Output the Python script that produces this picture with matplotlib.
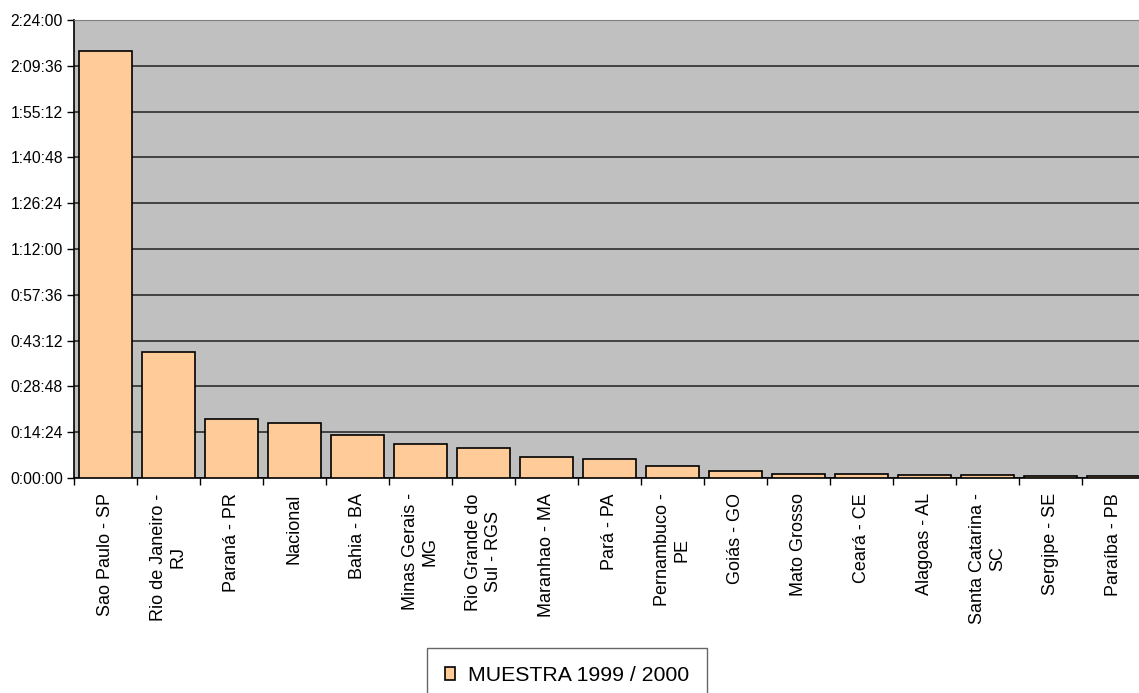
import numpy as np
import matplotlib.pyplot as plt
from matplotlib.ticker import FuncFormatter, FixedLocator

plt.rcParams['font.family'] = ['Liberation Sans', 'DejaVu Sans']

# categories and values (seconds)
estados = ['Sao Paulo - SP', 'Rio de Janeiro -\nRJ', 'Paraná - PR', 'Nacional',
           'Bahia - BA', 'Minas Gerais -\nMG', 'Rio Grande do\nSul - RGS',
           'Maranhao - MA', 'Pará - PA', 'Pernambuco -\nPE', 'Goiás - GO',
           'Mato Grosso', 'Ceará - CE', 'Alagoas - AL', 'Santa Catarina -\nSC',
           'Sergipe - SE', 'Paraíba - PB']
segundos = [8059, 2382, 1118, 1037, 805, 641, 572, 402, 358, 226, 138,
            72, 70, 62, 50, 38, 32]
serie = 'MUESTRA 1999 / 2000'


def hms(v, pos=None):
    v = int(round(v))
    return '%d:%02d:%02d' % (v // 3600, (v % 3600) // 60, v % 60)


fig = plt.figure(figsize=(11.39, 6.93), dpi=100)
ax = fig.add_axes([74 / 1139, 1 - 478 / 693, (1145 - 74) / 1139, (478 - 20) / 693])
ax.set_facecolor('#c0c0c0')

x = np.arange(len(estados))
ax.bar(x, segundos, width=0.85, color='#ffcc99', edgecolor='black',
       linewidth=1.2, zorder=3, label=serie)

ax.set_xlim(-0.5, len(estados) - 0.5)
ax.set_ylim(0, 8640)
ax.set_yticks(np.arange(0, 8641, 864))
ax.yaxis.set_major_formatter(FuncFormatter(hms))
ax.grid(axis='y', color='#202020', linewidth=1.1, zorder=1)

ax.set_xticks(x)
ax.set_xticklabels(estados, rotation=90, ha='center', va='top',
                   multialignment='center', fontsize=13)
ax.xaxis.set_minor_locator(FixedLocator(np.arange(-0.5, len(estados), 1)))
ax.tick_params(axis='x', which='major', length=0, pad=11)
ax.tick_params(axis='x', which='minor', length=5, width=1, color='black')
ax.tick_params(axis='y', length=5, width=1, labelsize=11.3, pad=3)

ax.spines['top'].set_color('#808080')
ax.spines['right'].set_visible(False)
ax.spines['left'].set_linewidth(1.2)
ax.spines['bottom'].set_linewidth(1.2)

leg = fig.legend(loc='upper center', bbox_to_anchor=(567 / 1139, 1 - 648 / 693),
                 fontsize=15.3, frameon=True, fancybox=False, edgecolor='#404040',
                 handlelength=0.5, handleheight=0.5, borderpad=0.85, handletextpad=0.6,
                 borderaxespad=0)
leg.get_frame().set_linewidth(1)

fig.savefig('out.png', dpi=100, facecolor='white')
